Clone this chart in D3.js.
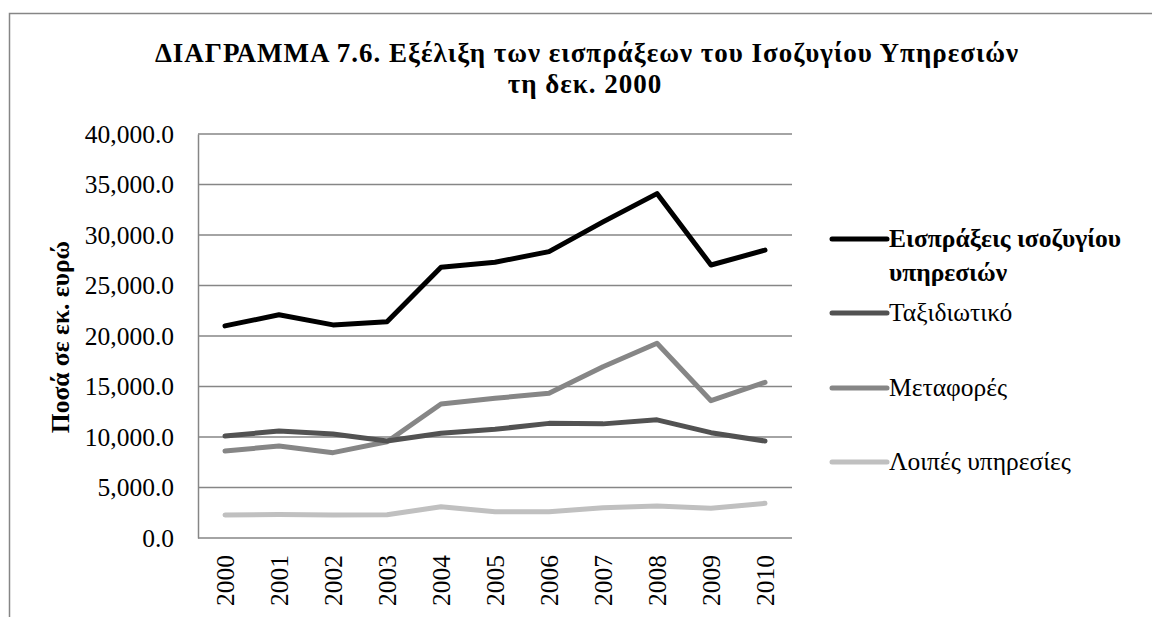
<!DOCTYPE html>
<html>
<head>
<meta charset="utf-8">
<script src="https://cdn.jsdelivr.net/npm/d3@7"></script>
<style>
  body { margin: 0; background: #fff; }
  svg { display: block; font-family: "Liberation Serif", "DejaVu Serif", serif; }
</style>
</head>
<body>
<svg id="area" width="1152" height="617"></svg>
<script>
const years = ['2000', '2001', '2002', '2003', '2004', '2005', '2006', '2007', '2008', '2009', '2010'];
const seriesNames = ['Εισπράξεις ισοζυγίου υπηρεσιών', 'Ταξιδιωτικό', 'Μεταφορές', 'Λοιπές υπηρεσίες'];
const receipts = [21000, 22100, 21100, 21400, 26800, 27300, 28350, 31300, 34100, 27030, 28500];
const travel = [10100, 10590, 10300, 9600, 10370, 10760, 11350, 11300, 11700, 10430, 9600];
const transport = [8610, 9110, 8450, 9530, 13270, 13830, 14330, 16960, 19280, 13590, 15410];
const other = [2280, 2320, 2280, 2300, 3100, 2600, 2600, 3000, 3170, 2940, 3430];
const yTicks = [0, 5000, 10000, 15000, 20000, 25000, 30000, 35000, 40000];

const seriesValues = [receipts, travel, transport, other];
const colors = ['#000000', '#525252', '#868686', '#c0c0c0'];

const svg = d3.select('#area');
const margin = { left: 198, right: 360, top: 134, bottom: 79 };
const width = 1152;
const height = 617;

// outer chart frame (only top and left edges fall inside the picture)
svg.append('path')
  .attr('d', `M${width},13.5 H9.5 V${height}`)
  .attr('fill', 'none')
  .attr('stroke', '#868686')
  .attr('stroke-width', 1.5);

const x = d3.scaleBand()
  .domain(years)
  .range([margin.left, width - margin.right]);

const y = d3.scaleLinear()
  .domain([0, 40000])
  .range([height - margin.bottom, margin.top]);

// gridlines
svg.append('g')
  .selectAll('line')
  .data(yTicks)
  .join('line')
  .attr('x1', margin.left)
  .attr('x2', width - margin.right)
  .attr('y1', (d) => y(d))
  .attr('y2', (d) => y(d))
  .attr('stroke', '#868686')
  .attr('stroke-width', 1.5);

// y axis
const yAxis = svg.append('g')
  .attr('transform', `translate(${margin.left},0)`)
  .call(d3.axisLeft(y).tickValues(yTicks).tickSize(0).tickPadding(24)
    .tickFormat(d3.format(',.1f')));
yAxis.select('.domain').attr('stroke', '#868686').attr('stroke-width', 1.5);
yAxis.selectAll('text')
  .attr('font-family', '"Liberation Serif", serif')
  .attr('font-size', 25.5)
  .attr('fill', '#000')
  .attr('dy', '0.32em');

// x axis labels (rotated)
svg.append('g')
  .selectAll('text')
  .data(years)
  .join('text')
  .attr('transform', (d) => `translate(${x(d) + x.bandwidth() / 2 + 9},${y(0) + 17}) rotate(-90)`)
  .attr('text-anchor', 'end')
  .attr('font-size', 25.5)
  .text((d) => d);

// lines, drawn back to front
const line = d3.line()
  .x((d, i) => x(years[i]) + x.bandwidth() / 2)
  .y((d) => y(d));

svg.append('g')
  .selectAll('path')
  .data(seriesValues.slice().reverse())
  .join('path')
  .attr('d', line)
  .attr('fill', 'none')
  .attr('stroke', (d, i) => colors[3 - i])
  .attr('stroke-width', 5)
  .attr('stroke-linecap', 'round')
  .attr('stroke-linejoin', 'round');

// title
const title = svg.append('text')
  .attr('text-anchor', 'middle')
  .attr('font-weight', 'bold')
  .attr('font-size', 27)
  .attr('letter-spacing', 1);
title.append('tspan').attr('x', 587).attr('y', 62)
  .text('ΔΙΑΓΡΑΜΜΑ 7.6. Εξέλιξη των εισπράξεων του Ισοζυγίου Υπηρεσιών');
title.append('tspan').attr('x', 585).attr('y', 93)
  .text('τη δεκ. 2000');

// y axis title
svg.append('text')
  .attr('transform', 'translate(69,337) rotate(-90)')
  .attr('text-anchor', 'middle')
  .attr('font-weight', 'bold')
  .attr('font-size', 25.5)
  .text('Ποσά σε εκ. ευρώ');

// legend
const legendY = [239, 313, 388, 462];
const legend = svg.append('g')
  .selectAll('g')
  .data(seriesNames)
  .join('g')
  .attr('transform', (d, i) => `translate(832,${legendY[i]})`);

legend.append('line')
  .attr('x1', 0)
  .attr('x2', 55)
  .attr('stroke', (d, i) => colors[i])
  .attr('stroke-width', 5)
  .attr('stroke-linecap', 'round');

legend.append('text')
  .attr('x', 57)
  .attr('dy', '0.32em')
  .attr('font-size', 25.5)
  .attr('font-weight', (d, i) => (i === 0 ? 'bold' : 'normal'))
  .each(function (d, i) {
    const t = d3.select(this);
    if (i === 0) {
      t.append('tspan').attr('x', 57).text('Εισπράξεις ισοζυγίου');
      t.append('tspan').attr('x', 57).attr('dy', 34).text('υπηρεσιών');
    } else {
      t.text(d);
    }
  });
</script>
</body>
</html>
